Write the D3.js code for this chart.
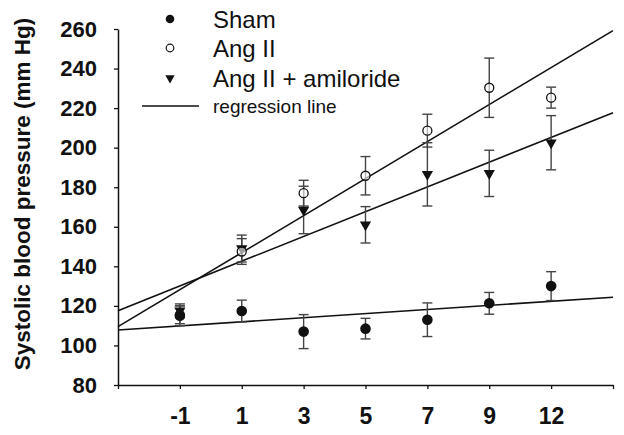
<!DOCTYPE html>
<html><head><meta charset="utf-8">
<script src="https://cdn.jsdelivr.net/npm/d3@7"></script>
<style>
html,body{margin:0;padding:0;background:#fff;}
svg{display:block;font-family:"Liberation Sans",Arial,Helvetica,sans-serif;}
</style></head>
<body>
<svg id="chart" width="624" height="435"></svg>
<script>
// ---- data ----
const categories = ["-1", "1", "3", "5", "7", "9", "12"];
const shamMean = [115, 117.4, 107, 108.5, 113, 121.3, 130];
const shamErr  = [5, 5.5, 8.6, 5.2, 8.5, 5.5, 7.3];
const angMean  = [115.5, 147.5, 177, 185.8, 208.6, 230.3, 225.3];
const angErr   = [4.5, 6.5, 6.5, 9.7, 8.3, 15, 5.3];
const amiMean  = [117.5, 149, 168.5, 161, 186.5, 187, 202.5];
const amiErr   = [3.5, 6.8, 12, 9.2, 16, 11.7, 13.7];
// regression lines: value at left edge and right edge of the plot
const shamReg = [107.8, 124.4];
const angReg  = [109.5, 259.2];
const amiReg  = [117.6, 217.7];
const yTicks = [80, 100, 120, 140, 160, 180, 200, 220, 240, 260];
const legendLabels = ["Sham", "Ang II", "Ang II + amiloride", "regression line"];

// ---- layout ----
const svg = d3.select("#chart");
const L = 118, R = 613, T = 29, B = 385;
const slots = ["", ...categories, " "];
const x = d3.scalePoint().domain(slots).range([L, R]).padding(0);
const xIdx = d3.scaleLinear().domain([0, slots.length - 1]).range([L, R]);
const y = d3.scaleLinear().domain([80, 260]).range([B, T]);

// axes
const yAxis = svg.append("g").attr("transform", `translate(${L},0)`)
  .call(d3.axisLeft(y).tickValues(yTicks).tickSize(4).tickSizeOuter(0).tickPadding(17));
yAxis.select(".domain").attr("stroke", "#111").attr("stroke-width", 1.5);
yAxis.selectAll(".tick line").attr("stroke", "#111").attr("stroke-width", 1.3);
yAxis.selectAll(".tick text").attr("font-size", 22).attr("font-weight", "bold").attr("fill", "#111")
  .attr("font-family", "Liberation Sans, Arial, sans-serif");

const xAxis = svg.append("g").attr("transform", `translate(0,${B})`)
  .call(d3.axisBottom(x).tickSize(4).tickSizeOuter(0).tickPadding(19));
xAxis.select(".domain").attr("stroke", "#111").attr("stroke-width", 1.5);
xAxis.selectAll(".tick line").attr("stroke", "#111").attr("stroke-width", 1.3);
xAxis.selectAll(".tick text").attr("font-size", 23).attr("font-weight", "bold").attr("fill", "#111")
  .attr("font-family", "Liberation Sans, Arial, sans-serif");

// y title
svg.append("text").attr("transform", `translate(30,194) rotate(-90)`)
  .attr("text-anchor", "middle").attr("font-size", 22.5).attr("font-weight", "bold").attr("fill", "#111")
  .text("Systolic blood pressure (mm Hg)");

// regression lines
[shamReg, angReg, amiReg].forEach(r => {
  svg.append("line")
    .attr("x1", xIdx(0)).attr("y1", y(r[0]))
    .attr("x2", xIdx(slots.length - 1)).attr("y2", y(r[1]))
    .attr("stroke", "#111").attr("stroke-width", 1.6);
});

// error bars
function errBars(means, errs) {
  const g = svg.append("g").attr("stroke", "#444").attr("stroke-width", 1.4);
  means.forEach((m, i) => {
    const cx = x(categories[i]);
    const top = y(m + errs[i]), bot = y(m - errs[i]);
    g.append("line").attr("x1", cx).attr("x2", cx).attr("y1", top).attr("y2", bot);
    g.append("line").attr("x1", cx - 5).attr("x2", cx + 5).attr("y1", top).attr("y2", top);
    g.append("line").attr("x1", cx - 5).attr("x2", cx + 5).attr("y1", bot).attr("y2", bot);
  });
}
errBars(amiMean, amiErr);
errBars(angMean, angErr);
errBars(shamMean, shamErr);

const tri = d3.symbol().type(d3.symbolTriangle).size(55);

// markers
svg.append("g").selectAll("path").data(amiMean).join("path")
  .attr("d", tri)
  .attr("transform", (d, i) => `translate(${x(categories[i])},${y(d)}) rotate(180)`)
  .attr("fill", "#111");
svg.append("g").selectAll("circle").data(angMean).join("circle")
  .attr("cx", (d, i) => x(categories[i])).attr("cy", d => y(d)).attr("r", 4.5)
  .attr("fill", "#fff").attr("fill-opacity", 0.6).attr("stroke", "#111").attr("stroke-width", 1.3);
svg.append("g").selectAll("circle").data(shamMean).join("circle")
  .attr("cx", (d, i) => x(categories[i])).attr("cy", d => y(d)).attr("r", 5.3)
  .attr("fill", "#111");

// legend
const lg = svg.append("g");
const lx = 170, tx = 213, rows = [19, 48, 78, 106];
lg.append("circle").attr("cx", lx).attr("cy", rows[0]).attr("r", 4.3).attr("fill", "#111");
lg.append("circle").attr("cx", lx).attr("cy", rows[1]).attr("r", 3.8).attr("fill", "#fff").attr("stroke", "#111").attr("stroke-width", 1.2);
lg.append("path").attr("d", d3.symbol().type(d3.symbolTriangle).size(38))
  .attr("transform", `translate(${lx},${rows[2]}) rotate(180)`).attr("fill", "#111");
lg.append("line").attr("x1", 142).attr("x2", 199).attr("y1", rows[3]).attr("y2", rows[3])
  .attr("stroke", "#111").attr("stroke-width", 1.5);
legendLabels.forEach((t, i) => {
  lg.append("text").attr("x", tx).attr("y", rows[i]).attr("dy", "0.36em")
    .attr("font-size", i < 3 ? 24 : 19).attr("fill", "#111").text(t);
});
</script>
</body></html>
